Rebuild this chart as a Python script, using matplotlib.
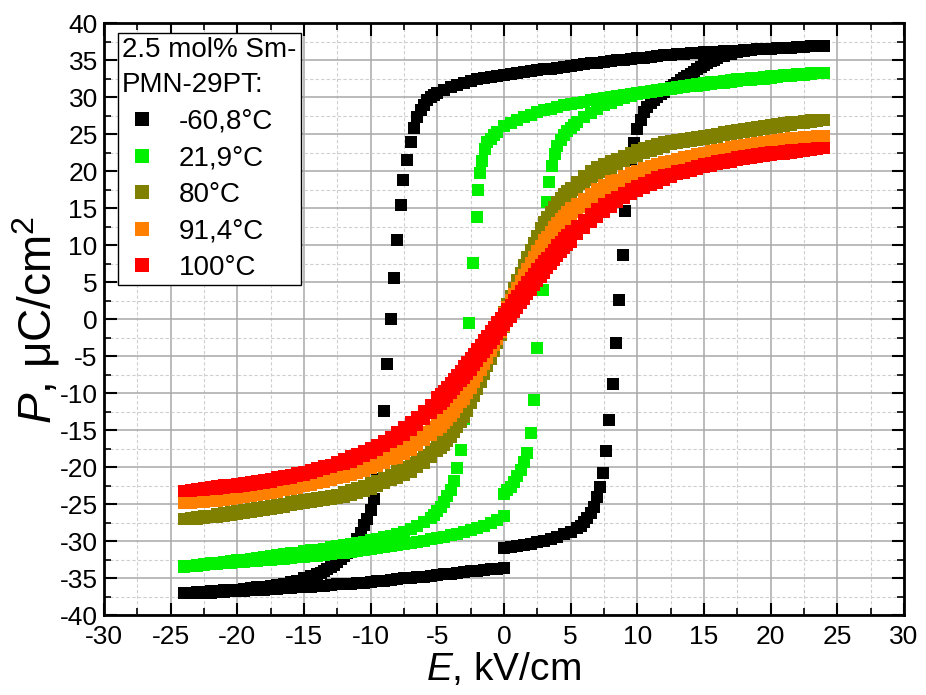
import numpy as np
import matplotlib
matplotlib.use("Agg")
import matplotlib.pyplot as plt
from matplotlib.lines import Line2D

nan = np.nan

# ---- field grids (kV/cm) ----
# 0.5 kV/cm sweep from +24 down to -24
E_FALL = [24.0, 23.5, 23.0, 22.5, 22.0, 21.5, 21.0, 20.5, 20.0, 19.5, 19.0, 18.5, 18.0, 17.5, 17.0, 16.5,
          16.0, 15.5, 15.0, 14.5, 14.0, 13.5, 13.0, 12.5, 12.0, 11.5, 11.0, 10.5, 10.0, 9.5, 9.0, 8.5,
          8.0, 7.5, 7.0, 6.5, 6.0, 5.5, 5.0, 4.5, 4.0, 3.5, 3.0, 2.5, 2.0, 1.5, 1.0, 0.5, 0.0,
          -0.5, -1.0, -1.5, -2.0, -2.5, -3.0, -3.5, -4.0, -4.5, -5.0, -5.5, -6.0, -6.5, -7.0, -7.5, -8.0,
          -8.5, -9.0, -9.5, -10.0, -10.5, -11.0, -11.5, -12.0, -12.5, -13.0, -13.5, -14.0, -14.5, -15.0,
          -15.5, -16.0, -16.5, -17.0, -17.5, -18.0, -18.5, -19.0, -19.5, -20.0, -20.5, -21.0, -21.5,
          -22.0, -22.5, -23.0, -23.5, -24.0]
E_START = E_FALL[48::-1]   # 0 -> +24
E_BACK = E_FALL[:47:-1]    # -24 -> 0

# finer steps around zero for the slim loops
E_SLIM = [24.0, 23.5, 23.0, 22.5, 22.0, 21.5, 21.0, 20.5, 20.0, 19.5, 19.0, 18.5, 18.0, 17.5, 17.0, 16.5,
          16.0, 15.5, 15.0, 14.5, 14.0, 13.5, 13.0, 12.5, 12.0, 11.5, 11.0, 10.5, 10.0, 9.5, 9.0, 8.5,
          8.0, 7.5, 7.0, 6.5, 6.0, 5.5,
          5.0, 4.75, 4.5, 4.25, 4.0, 3.75, 3.5, 3.25, 3.0, 2.75, 2.5, 2.25, 2.0, 1.75, 1.5, 1.25, 1.0,
          0.75, 0.5, 0.25, 0.0, -0.25, -0.5, -0.75, -1.0, -1.25, -1.5, -1.75, -2.0, -2.25, -2.5, -2.75,
          -3.0, -3.25, -3.5, -3.75, -4.0, -4.25, -4.5, -4.75, -5.0,
          -5.5, -6.0, -6.5, -7.0, -7.5, -8.0, -8.5, -9.0, -9.5, -10.0, -10.5, -11.0, -11.5, -12.0, -12.5,
          -13.0, -13.5, -14.0, -14.5, -15.0, -15.5, -16.0, -16.5, -17.0, -17.5, -18.0, -18.5, -19.0,
          -19.5, -20.0, -20.5, -21.0, -21.5, -22.0, -22.5, -23.0, -23.5, -24.0]
E_SLIM_UP = E_SLIM[::-1]

# ---- -60,8 C ----
BLACK_FALL = [37.0, 36.95, 36.9, 36.85, 36.8, 36.75, 36.7, 36.65, 36.6, 36.55, 36.5, 36.45, 36.4, 36.35,
              36.3, 36.25, 36.2, 36.15, 36.1, 36.05, 36.0, 35.9, 35.85, 35.8, 35.7, 35.6, 35.5, 35.4,
              35.3, 35.2, 35.1, 35.0, 34.9, 34.8, 34.7, 34.6, 34.5, 34.4, 34.25, 34.1, 34.0, 33.9, 33.8,
              33.7, 33.6, 33.5, 33.35, 33.2, 33.1,
              32.95, 32.8, 32.65, 32.5, 32.25, 32.0, 31.7, 31.4, 31.0, 30.6, 30.0, 29.0,
              nan, nan, nan, nan, nan, nan, nan,
              -25.8, -27.8, -29.6, -31.0, -32.0, -32.8, -33.5, -34.0, -34.4, -34.7, -35.0, -35.3, -35.5,
              -35.7, -35.85, -36.0, -36.1, -36.2, -36.3, -36.4, -36.5, -36.55, -36.6, -36.7, -36.75,
              -36.8, -36.85, -36.9, -37.0]
BLACK_FALL_SW_E = [-5.25, -5.75, -6.25, -6.5, -6.75, -7.0, -7.26, -7.56, -7.76, -8.01, -8.27, -8.46,
                   -8.76, -9.01, -9.25, -9.5, -9.75, -10.25, -10.75, -11.25, -11.75, -12.25, -12.75,
                   -13.25, -13.75]
BLACK_FALL_SW_P = [30.35, 29.6, 28.3, 27.3, 25.9, 24.0, 21.6, 18.85, 15.5, 10.8, 5.65, 0.0,
                   -6.0, -12.3, -17.5, -21.5, -24.2, -26.9, -28.8, -30.3, -31.5, -32.4, -33.15,
                   -33.75, -34.2]
BLACK_START = [-30.9, -30.75, -30.6, -30.45, -30.3, -30.1, -29.9, -29.65, -29.4, -29.05, -28.7, -28.2,
               -27.4, -26.2, nan, nan, nan, nan, nan, nan,
               25.8, 28.0, 29.2, 30.1, 30.8, 31.4, 32.0, 32.6, 33.2, 33.8, 34.4, 34.9, 35.3, 35.6, 35.9,
               36.1, 36.3, 36.4, 36.5, 36.55, 36.6, 36.65, 36.7, 36.75, 36.8, 36.85, 36.9, 36.95, 37.0]
BLACK_START_SW_E = [5.75, 6.25, 6.75, 7.0, 7.2, 7.4, 7.66, 7.9, 8.14, 8.39, 8.64, 8.9, 9.1, 9.3, 9.5,
                    9.74, 10.25, 10.75, 11.25, 11.75, 12.25, 12.75, 13.25, 13.75, 14.25, 14.75, 15.25,
                    15.75]
BLACK_START_SW_P = [-27.85, -26.85, -25.3, -24.0, -22.6, -20.8, -17.8, -13.6, -8.7, -3.2, 2.6, 8.7,
                    14.6, 18.6, 21.6, 23.8, 27.0, 28.7, 29.7, 30.5, 31.1, 31.7, 32.3, 32.9, 33.5, 34.1,
                    34.65, 35.1]
BLACK_BACK = [-37.0, -36.98, -36.95, -36.92, -36.9, -36.85, -36.8, -36.75, -36.7, -36.65, -36.6, -36.55,
              -36.5, -36.45, -36.4, -36.35, -36.3, -36.2, -36.15, -36.1, -36.0, -35.95, -35.9, -35.8,
              -35.75, -35.7, -35.6, -35.55, -35.45, -35.4, -35.3, -35.2, -35.1, -35.0, -34.95, -34.85,
              -34.75, -34.65, -34.55, -34.45, -34.35, -34.25, -34.15, -34.05, -33.95, -33.85, -33.75,
              -33.65, -33.55]

# ---- 21,9 C ----
GREEN_FALL = [33.3, 33.25, 33.2, 33.1, 33.0, 32.95, 32.85, 32.75, 32.65, 32.55, 32.5, 32.4, 32.3, 32.2,
              32.1, 32.0, 31.9, 31.8, 31.7, 31.6, 31.5, 31.4, 31.25, 31.15, 31.0, 30.9, 30.8, 30.7, 30.6,
              30.45, 30.3, 30.2, 30.05, 29.9, 29.75, 29.6, 29.45, 29.3, 29.15, 28.95, 28.75, 28.5,
              28.25, 28.0, 27.7, 27.35, 27.0, 26.6, 26.1,
              25.4, 24.4, nan, nan, nan, nan, nan,
              -23.0, -24.7, -25.9, -26.8, -27.4, -27.9, -28.3, -28.65, -28.95, -29.2, -29.45, -29.65,
              -29.85, -30.05, -30.2, -30.35, -30.5, -30.65, -30.8, -30.95, -31.1, -31.2, -31.35, -31.5,
              -31.6, -31.75, -31.85, -32.0, -32.1, -32.2, -32.35, -32.45, -32.55, -32.65, -32.75,
              -32.85, -32.95, -33.05, -33.15, -33.25, -33.35]
GREEN_FALL_SW_E = [-0.75, -1.25, -1.45, -1.62, -1.81, -1.92, -2.06, -2.34, -2.59, -2.8, -3.0, -3.26,
                   -3.51, -3.75, -4.25, -4.75, -5.25]
GREEN_FALL_SW_P = [24.95, 24.0, 23.0, 21.4, 19.75, 17.5, 13.8, 7.6, -0.5, -7.5, -13.5, -17.6,
                   -20.1, -21.8, -23.9, -25.35, -26.4]
GREEN_START = [-23.6, -22.6, -21.2, nan, nan, nan, nan, nan,
               23.4, 24.9, 25.9, 26.7, 27.4, 27.95, 28.5, 28.95, 29.3, 29.65, 29.95, 30.2, 30.45, 30.65,
               30.85, 31.0, 31.15, 31.3, 31.45, 31.55, 31.7, 31.8, 31.95, 32.05, 32.15, 32.25, 32.35,
               32.45, 32.55, 32.6, 32.7, 32.8, 32.85, 32.95, 33.0, 33.1, 33.15, 33.2, 33.25, 33.3, 33.35]
GREEN_START_SW_E = [0.25, 0.75, 1.24, 1.5, 1.74, 1.99, 2.22, 2.49, 2.9, 3.05, 3.2, 3.4, 3.6, 3.8,
                    4.25, 4.75, 5.25]
GREEN_START_SW_P = [-23.1, -21.95, -20.3, -19.2, -18.1, -15.4, -10.9, -3.9, 4.0, 10.5, 15.9, 18.6,
                    20.8, 22.3, 24.2, 25.45, 26.35]
GREEN_BACK = [-33.4, -33.35, -33.25, -33.2, -33.1, -33.05, -32.95, -32.9, -32.8, -32.75, -32.65, -32.6,
              -32.5, -32.45, -32.35, -32.3, -32.2, -32.15, -32.05, -32.0, -31.9, -31.8, -31.7, -31.6,
              -31.5, -31.4, -31.3, -31.15, -31.05, -30.9, -30.8, -30.65, -30.5, -30.35, -30.2, -30.05,
              -29.9, -29.7, -29.55, -29.35, -29.15, -28.95, -28.7, -28.45, -28.2, -27.9, -27.55, -27.1,
              -26.6]

# ---- 80 C ----
OLIVE_FALL = [27.0, 27.0, 26.9, 26.8, 26.7, 26.65, 26.55, 26.45, 26.3, 26.2, 26.05, 25.9, 25.75, 25.6,
              25.45, 25.3, 25.1, 24.95, 24.75, 24.6, 24.5, 24.4, 24.3, 24.15, 24.0, 23.75, 23.45, 23.15,
              22.85, 22.5, 22.15, 21.75, 21.4, 21.0, 20.55, 20.0, 19.4, 18.6,
              17.8, 17.4, 16.95, 16.45, 15.9, 15.25, 14.55, 13.8, 13.2, 12.3, 11.35, 10.4, 9.4, 8.4, 7.4,
              6.35, 5.3, 4.25, 3.2, 2.1, 1.0, -0.1, -1.2, -2.25, -3.3, -4.35, -5.4, -6.4, -7.4, -8.4,
              -9.35, -10.3, -11.2, -12.2, -12.95, -13.65, -14.3, -14.85, -15.35, -15.8, -16.2,
              -17.5, -18.3, -18.9, -19.45, -19.9, -20.3, -21.05, -21.45, -21.8, -22.15, -22.45, -22.75,
              -23.05, -23.3, -23.75, -23.9, -24.0, -24.1, -24.2, -24.35, -24.55, -24.7, -24.9, -25.05,
              -25.2, -25.35, -25.5, -25.65, -25.8, -25.9, -26.05, -26.15, -26.25, -26.5, -26.6, -26.7,
              -26.8, -27.0]
OLIVE_RISE = [-27.0, -27.0, -26.9, -26.8, -26.7, -26.65, -26.55, -26.45, -26.3, -26.2, -26.05, -25.9,
              -25.75, -25.6, -25.45, -25.3, -25.1, -24.95, -24.75, -24.6, -24.5, -24.4, -24.3, -24.15,
              -24.0, -23.75, -23.45, -23.15, -22.85, -22.5, -22.15, -21.75, -21.4, -21.0, -20.55, -20.0,
              -19.4, -18.6,
              -17.8, -17.4, -16.95, -16.45, -15.9, -15.25, -14.55, -13.8, -13.2, -12.3, -11.35, -10.4,
              -9.4, -8.4, -7.4, -6.35, -5.3, -4.25, -3.2, -2.1, -1.0, 0.1, 1.2, 2.25, 3.3, 4.35, 5.4, 6.4,
              7.4, 8.4, 9.35, 10.3, 11.2, 12.2, 12.95, 13.65, 14.3, 14.85, 15.35, 15.8, 16.2,
              17.5, 18.3, 18.9, 19.45, 19.9, 20.3, 21.05, 21.45, 21.8, 22.15, 22.45, 22.75, 23.05, 23.3,
              23.75, 23.9, 24.0, 24.1, 24.2, 24.35, 24.55, 24.7, 24.9, 25.05, 25.2, 25.35, 25.5, 25.65,
              25.8, 25.9, 26.05, 26.15, 26.25, 26.5, 26.6, 26.7, 26.8, 27.0]

# ---- 91,4 C ----
ORANGE_FALL = [24.8, 24.8, 24.7, 24.6, 24.5, 24.5, 24.4, 24.25, 24.15, 24.0, 23.9, 23.75, 23.6, 23.45,
               23.3, 23.1, 22.95, 22.75, 22.55, 22.35, 22.15, 21.95, 21.7, 21.45, 21.35, 21.05, 20.75,
               20.45, 20.1, 19.75, 19.35, 18.9, 18.65, 18.15, 17.6, 17.0, 16.35, 15.6,
               15.0, 14.55, 14.05, 13.55, 13.05, 12.45, 11.85, 11.2, 10.7, 9.95, 9.2, 8.4, 7.6, 6.8, 6.0,
               5.15, 4.3, 3.45, 2.6, 1.75, 0.9, 0.05, -0.8, -1.65, -2.5, -3.35, -4.2, -5.0, -5.8, -6.6,
               -7.4, -8.15, -8.9, -9.7, -10.35, -10.95, -11.55, -12.05, -12.55, -13.05, -13.5,
               -14.5, -15.25, -15.9, -16.5, -17.05, -17.55, -18.2, -18.65, -19.05, -19.4, -19.75, -20.05,
               -20.35, -20.65, -21.05, -21.3, -21.55, -21.75, -21.95, -22.15, -22.35, -22.55, -22.7,
               -22.9, -23.05, -23.2, -23.35, -23.5, -23.6, -23.75, -23.85, -24.0, -24.1, -24.3, -24.4,
               -24.5, -24.6, -24.8]
ORANGE_RISE = [-24.8, -24.8, -24.7, -24.6, -24.5, -24.5, -24.4, -24.25, -24.15, -24.0, -23.9, -23.75,
               -23.6, -23.45, -23.3, -23.1, -22.95, -22.75, -22.55, -22.35, -22.15, -21.95, -21.7,
               -21.45, -21.35, -21.05, -20.75, -20.45, -20.1, -19.75, -19.35, -18.9, -18.65, -18.15,
               -17.6, -17.0, -16.35, -15.6,
               -15.0, -14.55, -14.05, -13.55, -13.05, -12.45, -11.85, -11.2, -10.7, -9.95, -9.2, -8.4,
               -7.6, -6.8, -6.0, -5.15, -4.3, -3.45, -2.6, -1.75, -0.9, -0.05, 0.8, 1.65, 2.5, 3.35, 4.2,
               5.0, 5.8, 6.6, 7.4, 8.15, 8.9, 9.7, 10.35, 10.95, 11.55, 12.05, 12.55, 13.05, 13.5,
               14.5, 15.25, 15.9, 16.5, 17.05, 17.55, 18.2, 18.65, 19.05, 19.4, 19.75, 20.05, 20.35,
               20.65, 21.05, 21.3, 21.55, 21.75, 21.95, 22.15, 22.35, 22.55, 22.7, 22.9, 23.05, 23.2,
               23.35, 23.5, 23.6, 23.75, 23.85, 24.0, 24.1, 24.3, 24.4, 24.5, 24.6, 24.8]

# ---- 100 C ----
RED_FALL = [23.2, 23.2, 23.1, 23.0, 22.9, 22.9, 22.8, 22.7, 22.6, 22.45, 22.35, 22.2, 22.05, 21.9, 21.75,
            21.6, 21.4, 21.2, 21.0, 20.75, 20.5, 20.25, 20.0, 19.7, 19.55, 19.2, 18.85, 18.45, 18.05,
            17.6, 17.1, 16.55, 16.15, 15.55, 14.9, 14.2, 13.4, 12.6,
            11.9, 11.45, 11.0, 10.5, 10.0, 9.45, 8.9, 8.35, 7.9, 7.35, 6.8, 6.2, 5.6, 5.0, 4.4, 3.8, 3.2,
            2.6, 2.0, 1.4, 0.8, 0.2, -0.4, -1.0, -1.6, -2.2, -2.8, -3.4, -4.0, -4.6, -5.2, -5.75, -6.3,
            -6.95, -7.5, -8.05, -8.6, -9.1, -9.6, -10.05, -10.5,
            -11.6, -12.4, -13.2, -13.9, -14.55, -15.15, -15.85, -16.4, -16.9, -17.35, -17.75, -18.15,
            -18.5, -18.85, -19.3, -19.6, -19.85, -20.1, -20.35, -20.6, -20.8, -21.0, -21.2, -21.35,
            -21.5, -21.65, -21.8, -21.95, -22.05, -22.2, -22.3, -22.4, -22.5, -22.7, -22.8, -22.9,
            -23.0, -23.2]
RED_RISE = [-23.2, -23.2, -23.1, -23.0, -22.9, -22.9, -22.8, -22.7, -22.6, -22.45, -22.35, -22.2, -22.05,
            -21.9, -21.75, -21.6, -21.4, -21.2, -21.0, -20.75, -20.5, -20.25, -20.0, -19.7, -19.55,
            -19.2, -18.85, -18.45, -18.05, -17.6, -17.1, -16.55, -16.15, -15.55, -14.9, -14.2, -13.4,
            -12.6,
            -11.9, -11.45, -11.0, -10.5, -10.0, -9.45, -8.9, -8.35, -7.9, -7.35, -6.8, -6.2, -5.6, -5.0,
            -4.4, -3.8, -3.2, -2.6, -2.0, -1.4, -0.8, -0.2, 0.4, 1.0, 1.6, 2.2, 2.8, 3.4, 4.0, 4.6, 5.2,
            5.75, 6.3, 6.95, 7.5, 8.05, 8.6, 9.1, 9.6, 10.05, 10.5,
            11.6, 12.4, 13.2, 13.9, 14.55, 15.15, 15.85, 16.4, 16.9, 17.35, 17.75, 18.15, 18.5, 18.85,
            19.3, 19.6, 19.85, 20.1, 20.35, 20.6, 20.8, 21.0, 21.2, 21.35, 21.5, 21.65, 21.8, 21.95,
            22.05, 22.2, 22.3, 22.4, 22.5, 22.7, 22.8, 22.9, 23.0, 23.2]

LABELS = ["-60,8\u00b0C", "21,9\u00b0C", "80\u00b0C", "91,4\u00b0C", "100\u00b0C"]
COLORS = ["#000000", "#00f000", "#808000", "#ff8000", "#ff0000"]

plt.rcParams["font.family"] = ["Liberation Sans", "DejaVu Sans"]
plt.rcParams["mathtext.fontset"] = "custom"
plt.rcParams["mathtext.rm"] = "Liberation Sans"
plt.rcParams["mathtext.it"] = "Liberation Sans:italic"
plt.rcParams["axes.unicode_minus"] = False

fig = plt.figure(figsize=(9.26, 6.95), dpi=100)
ax = fig.add_axes([0.1123, 0.1144, 0.8639, 0.8518])

MS = 8.6


def squares(E, P, color):
    ax.plot(E, P, ls="none", marker="s", ms=MS, mew=0, color=color)


# loops drawn coldest first so the hot ones sit on top
squares(E_FALL, BLACK_FALL, COLORS[0])
squares(BLACK_FALL_SW_E, BLACK_FALL_SW_P, COLORS[0])
squares(E_START, BLACK_START, COLORS[0])
squares(BLACK_START_SW_E, BLACK_START_SW_P, COLORS[0])
squares(E_BACK, BLACK_BACK, COLORS[0])

squares(E_FALL, GREEN_FALL, COLORS[1])
squares(GREEN_FALL_SW_E, GREEN_FALL_SW_P, COLORS[1])
squares(E_START, GREEN_START, COLORS[1])
squares(GREEN_START_SW_E, GREEN_START_SW_P, COLORS[1])
squares(E_BACK, GREEN_BACK, COLORS[1])

squares(E_SLIM, OLIVE_FALL, COLORS[2])
squares(E_SLIM_UP, OLIVE_RISE, COLORS[2])
squares(E_SLIM, ORANGE_FALL, COLORS[3])
squares(E_SLIM_UP, ORANGE_RISE, COLORS[3])
squares(E_SLIM, RED_FALL, COLORS[4])
squares(E_SLIM_UP, RED_RISE, COLORS[4])

ax.set_xlim(-30, 30)
ax.set_ylim(-40, 40)
ax.set_xticks(np.arange(-30, 31, 5))
ax.set_yticks(np.arange(-40, 41, 5))
ax.set_xticks(np.arange(-27.5, 30, 5), minor=True)
ax.set_yticks(np.arange(-37.5, 40, 5), minor=True)
ax.set_axisbelow(True)
ax.grid(which="major", color="#a8a8a8", lw=1.1)
ax.grid(which="minor", color="#cfcfcf", lw=0.8, ls=(0, (3, 2)))
ax.tick_params(which="both", direction="in", top=True, right=True, labelsize=19)
ax.tick_params(which="major", length=9, width=1.5)
ax.tick_params(which="minor", length=5, width=1.2)
ax.tick_params(axis="x", pad=7)
ax.tick_params(axis="y", pad=4.5)
for s in ax.spines.values():
    s.set_linewidth(2)

ax.set_xlabel("$E$, kV/cm", fontsize=28, labelpad=1)
ax.set_ylabel("$P$, \u03bcC/cm$^2$", fontsize=33, labelpad=-2)

handles = [Line2D([], [], ls="none", marker="s", ms=9.5, mew=0, color=c) for c in COLORS]
leg = ax.legend(handles, LABELS, title="2.5 mol% Sm-\nPMN-29PT:", loc="upper left",
                bbox_to_anchor=(0.0175, 0.984), borderaxespad=0, fontsize=20, title_fontsize=20,
                alignment="left", fancybox=False, framealpha=1, edgecolor="black",
                handlelength=1.44, handletextpad=0.6, labelspacing=0.38, borderpad=0.15)
leg.get_frame().set_linewidth(1.0)
leg.get_title().set_linespacing(1.45)

fig.savefig("out.png", dpi=100)
